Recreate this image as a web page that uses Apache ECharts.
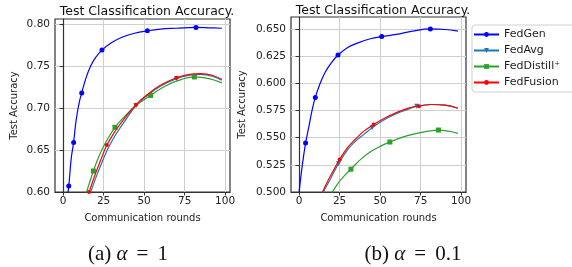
<!DOCTYPE html>
<html>
<head>
<meta charset="utf-8">
<script src="https://cdn.jsdelivr.net/npm/echarts@6/dist/echarts.min.js"></script>
<style>
html, body { margin: 0; background: #fff; }
#main { width: 572px; height: 267px; }
</style>
</head>
<body>
<div id="main"></div>
<script>
// series names, legend order
const names = ['FedGen', 'FedAvg', 'FedDistill\u207a', 'FedFusion']
const xTicks = [0, 25, 50, 75, 100]
const yTicksA = [0.60, 0.65, 0.70, 0.75, 0.80]
const yTicksB = [0.500, 0.525, 0.550, 0.575, 0.600, 0.625, 0.650]

// (a) alpha = 1: [round, accuracy]
const aGen = [[2, 0.585], [3.5, 0.607], [5, 0.640], [6.5, 0.659], [8, 0.685], [10, 0.707], [11.5, 0.718], [14, 0.735], [17, 0.750], [20, 0.760], [24, 0.769], [30, 0.778], [36, 0.784], [44, 0.789], [52, 0.792], [60, 0.794], [70, 0.795], [82, 0.796], [90, 0.7955], [98, 0.795]]
const aAvg = [[14, 0.585], [17, 0.600], [21, 0.621], [25, 0.640], [28, 0.653], [33, 0.670], [39, 0.687], [45, 0.703], [52, 0.715], [60, 0.726], [70, 0.735], [78, 0.739], [85, 0.740], [92, 0.738], [98, 0.733]]
const aDistill = [[13, 0.590], [14.5, 0.600], [18.7, 0.625], [22, 0.642], [26, 0.658], [32, 0.677], [38, 0.690], [45, 0.703], [54, 0.715], [62, 0.725], [70, 0.732], [81, 0.737], [90, 0.735], [98, 0.730]]
const aFusion = [[14, 0.590], [16, 0.600], [20, 0.622], [24, 0.642], [27, 0.656], [32, 0.672], [38, 0.688], [45, 0.704], [52, 0.716], [60, 0.727], [70, 0.736], [78, 0.740], [85, 0.741], [92, 0.739], [98, 0.734]]
// rounds where a marker is drawn
const aGenMarks = [3.5, 6.5, 11.5, 24, 52, 82]
const aAvgMarks = [45, 70]
const aDistillMarks = [18.7, 32, 54, 81]
const aFusionMarks = [16, 27, 45, 70]

// (b) alpha = 0.1
const bGen = [[0, 0.500], [2, 0.525], [4, 0.545], [6, 0.560], [8, 0.575], [10, 0.587], [13, 0.600], [16, 0.610], [20, 0.619], [24, 0.626], [30, 0.633], [36, 0.637], [44, 0.641], [51, 0.643], [60, 0.645], [70, 0.648], [81, 0.650], [90, 0.6495], [98, 0.648]]
const bAvg = [[14, 0.495], [15, 0.500], [19, 0.511], [24.3, 0.526], [30, 0.539], [35, 0.547], [40, 0.553], [45, 0.559], [52, 0.566], [60, 0.572], [67, 0.576], [72.6, 0.579], [82, 0.5805], [90, 0.580], [98, 0.577]]
const bDistill = [[19, 0.495], [20.6, 0.500], [24, 0.508], [28, 0.515], [32, 0.521], [38, 0.530], [44, 0.537], [50, 0.542], [56, 0.546], [63, 0.550], [70, 0.553], [78, 0.5555], [86, 0.557], [92, 0.556], [98, 0.554]]
const bFusion = [[13, 0.495], [14.5, 0.500], [18, 0.511], [22, 0.522], [25, 0.530], [30, 0.541], [35, 0.549], [40, 0.556], [46, 0.562], [53, 0.568], [60, 0.573], [67, 0.577], [74, 0.579], [82, 0.5805], [90, 0.580], [98, 0.577]]
const bGenMarks = [4, 10, 24, 51, 81]
const bAvgMarks = [24.3, 45, 72.6]
const bDistillMarks = [32, 56, 86]
const bFusionMarks = [25, 46, 74]

const colors = ['#0000ff', '#1f77b4', '#2ca02c', '#ff0000']
const symbols = ['circle', 'triangle', 'rect', 'circle']
const rotates = [0, 180, 0, 0]
const sizes = [5, 5, 5, 4]
const font = 'DejaVu Sans'

function makeSeries (idx, pts, marks, k) {
  return {
    name: names[k],
    type: 'line',
    xAxisIndex: idx,
    yAxisIndex: idx,
    smooth: 0.4,
    color: colors[k],
    symbol: symbols[k],
    symbolRotate: rotates[k],
    lineStyle: { width: 1.2 },
    z: 3 + k,
    data: pts.map(p => ({
      value: p,
      symbolSize: marks.indexOf(p[0]) >= 0 ? sizes[k] : 0
    }))
  }
}

function xAxis (idx) {
  return {
    type: 'value',
    gridIndex: idx,
    min: -5,
    max: 103,
    name: 'Communication rounds',
    nameLocation: 'middle',
    nameGap: 21,
    nameTextStyle: { fontFamily: font, fontSize: 10, color: '#222' },
    axisLine: { show: true, onZero: false, lineStyle: { color: '#333', width: 1.2 } },
    axisTick: { show: true, length: 3.5, customValues: xTicks, lineStyle: { color: '#333' } },
    axisLabel: { customValues: xTicks, fontFamily: font, fontSize: 10.5, color: '#222', margin: 4 },
    splitLine: { show: true, lineStyle: { color: '#cfcfcf', width: 1 } }
  }
}

function yAxis (idx, min, max, ticks, digits, gap) {
  return {
    type: 'value',
    gridIndex: idx,
    min: min,
    max: max,
    name: 'Test Accuracy',
    nameLocation: 'middle',
    nameGap: gap,
    nameTextStyle: { fontFamily: font, fontSize: 10, color: '#222' },
    axisLine: { show: true, lineStyle: { color: '#333', width: 1.2 } },
    axisTick: { show: true, length: 3.5, customValues: ticks, lineStyle: { color: '#333' } },
    axisLabel: {
      customValues: ticks,
      fontFamily: font,
      fontSize: 10.5,
      color: '#222',
      margin: 5,
      formatter: v => v.toFixed(digits)
    },
    splitLine: { show: true, lineStyle: { color: '#cfcfcf', width: 1 } }
  }
}

const capStyle = {
  fontFamily: 'Liberation Serif',
  fontSize: 21,
  fontWeight: 'normal',
  color: '#111',
  rich: {
    i: { fontFamily: 'Liberation Serif', fontStyle: 'italic', fontSize: 21, color: '#111' },
    s: { fontFamily: 'Liberation Serif', fontSize: 21, width: 9 }
  }
}

const chart = echarts.init(document.getElementById('main'))
chart.setOption({
  animation: false,
  backgroundColor: '#fff',
  title: [
    { text: 'Test Classification Accuracy.', left: 142, top: 0, textAlign: 'center', textStyle: { fontFamily: font, fontSize: 12.5, fontWeight: 'normal', color: '#111' } },
    { text: 'Test Classification Accuracy.', left: 378, top: -1, textAlign: 'center', textStyle: { fontFamily: font, fontSize: 12.5, fontWeight: 'normal', color: '#111' } },
    { text: '(a) {i|\u03b1}{s| }={s| }1', left: 123, top: 239, textAlign: 'center', textStyle: capStyle },
    { text: '(b) {i|\u03b1}{s| }={s| }0.1', left: 408, top: 239, textAlign: 'center', textStyle: capStyle }
  ],
  legend: {
    data: names,
    orient: 'vertical',
    left: 472,
    top: 25,
    itemWidth: 25,
    itemHeight: 6,
    itemGap: 5,
    padding: [4, 30, 4, 1],
    borderColor: '#d0d0d0',
    borderWidth: 1,
    borderRadius: 3,
    textStyle: { fontFamily: font, fontSize: 11, color: '#222' }
  },
  grid: [
    { left: 55, top: 19, width: 175, height: 173, show: true, borderColor: '#333', borderWidth: 1.2, backgroundColor: 'transparent' },
    { left: 291, top: 17, width: 175, height: 175, show: true, borderColor: '#333', borderWidth: 1.2, backgroundColor: 'transparent' }
  ],
  xAxis: [xAxis(0), xAxis(1)],
  yAxis: [
    yAxis(0, 0.60, 0.806, yTicksA, 2, 36),
    yAxis(1, 0.500, 0.661, yTicksB, 3, 44)
  ],
  series: [
    makeSeries(0, aGen, aGenMarks, 0),
    makeSeries(0, aAvg, aAvgMarks, 1),
    makeSeries(0, aDistill, aDistillMarks, 2),
    makeSeries(0, aFusion, aFusionMarks, 3),
    makeSeries(1, bGen, bGenMarks, 0),
    makeSeries(1, bAvg, bAvgMarks, 1),
    makeSeries(1, bDistill, bDistillMarks, 2),
    makeSeries(1, bFusion, bFusionMarks, 3)
  ]
})
</script>
</body>
</html>
